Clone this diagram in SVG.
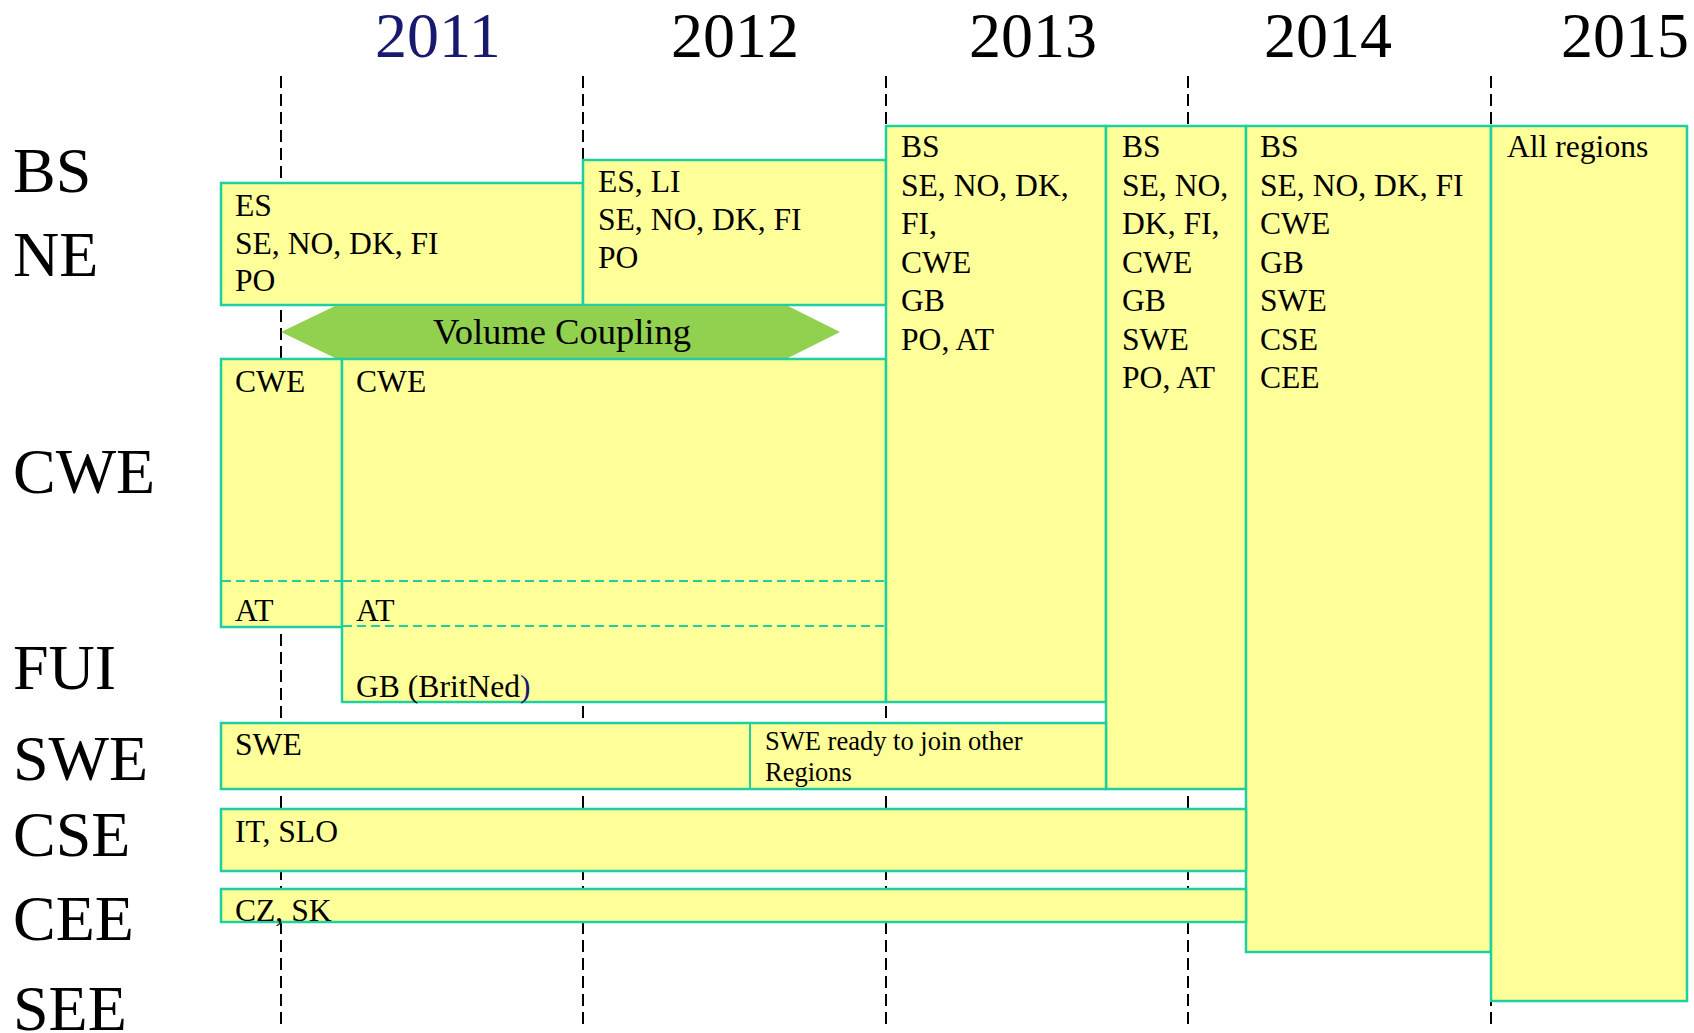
<svg xmlns="http://www.w3.org/2000/svg" width="1694" height="1033" viewBox="0 0 1694 1033">
  <style>
    text { font-family: "Liberation Serif", "Times New Roman", serif; fill: #000; }
    .year { font-size: 64px; }
    .row { font-size: 64px; }
    .t { font-size: 31.6px; }
    .small { font-size: 26.5px; }
    .vc { font-size: 36.5px; text-anchor: middle; }
    .box { fill: #ffff99; stroke: #1ecf9f; stroke-width: 2.5; }
    .sep { stroke: #1ecf9f; stroke-width: 2; stroke-dasharray: 9 5; fill: none; }
    .div { stroke: #1ecf9f; stroke-width: 2; fill: none; }
    .grid { stroke: #000; stroke-width: 2; stroke-dasharray: 12 6; fill: none; }
    .arrow { fill: #92d050; }
  </style>

  <rect width="1694" height="1033" fill="#ffffff"/>

  <!-- year headings -->
  <g id="years">
    <text class="year" x="375" y="57" style="fill:#191970">2011</text>
    <text class="year" x="671" y="57">2012</text>
    <text class="year" x="969" y="57">2013</text>
    <text class="year" x="1264" y="57">2014</text>
    <text class="year" x="1561" y="57">2015</text>
  </g>

  <!-- region labels -->
  <g id="regions">
    <text class="row" x="13" y="192">BS</text>
    <text class="row" x="13" y="276">NE</text>
    <text class="row" x="13" y="493">CWE</text>
    <text class="row" x="13" y="689">FUI</text>
    <text class="row" x="13" y="780">SWE</text>
    <text class="row" x="13" y="856">CSE</text>
    <text class="row" x="13" y="940">CEE</text>
    <text class="row" x="13" y="1030">SEE</text>
  </g>

  <!-- year boundaries -->
  <g id="gridlines">
    <line class="grid" x1="281" y1="76" x2="281" y2="1028"/>
    <line class="grid" x1="583" y1="76" x2="583" y2="1028"/>
    <line class="grid" x1="886" y1="76" x2="886" y2="1028"/>
    <line class="grid" x1="1188" y1="76" x2="1188" y2="1028"/>
    <line class="grid" x1="1491" y1="76" x2="1491" y2="1028"/>
  </g>

  <g id="connectors"></g>

  <g id="ne-2011">
    <rect class="box" x="221" y="183" width="362" height="122"/>
    <text class="t" x="235" y="216">ES</text>
    <text class="t" x="235" y="254">SE, NO, DK, FI</text>
    <text class="t" x="235" y="291">PO</text>
  </g>

  <g id="ne-2012">
    <rect class="box" x="583" y="160" width="303" height="145"/>
    <text class="t" x="598" y="192">ES, LI</text>
    <text class="t" x="598" y="230">SE, NO, DK, FI</text>
    <text class="t" x="598" y="268">PO</text>
  </g>

  <g id="volume-coupling">
    <polygon class="arrow" points="281,332 335,306 788,306 840,332 788,358 335,358"/>
    <text class="vc" x="562" y="344">Volume Coupling</text>
  </g>

  <g id="cwe-2011">
    <rect class="box" x="221" y="359" width="121" height="268"/>
    <line class="sep" x1="222" y1="581" x2="342" y2="581"/>
    <text class="t" x="235" y="392">CWE</text>
    <text class="t" x="235" y="621">AT</text>
  </g>

  <g id="cwe-2012">
    <rect class="box" x="342" y="359" width="544" height="343"/>
    <line class="sep" x1="343" y1="581" x2="885" y2="581"/>
    <line class="sep" x1="343" y1="626" x2="885" y2="626"/>
    <text class="t" x="356" y="392">CWE</text>
    <text class="t" x="356" y="621">AT</text>
    <text class="t" x="356" y="697">GB (BritNed<tspan style="fill:#191970">)</tspan></text>
  </g>

  <g id="coupled-2013">
    <rect class="box" x="886" y="126" width="220" height="576"/>
    <text class="t" x="901" y="157">BS</text>
    <text class="t" x="901" y="195.5">SE, NO, DK,</text>
    <text class="t" x="901" y="234">FI,</text>
    <text class="t" x="901" y="272.5">CWE</text>
    <text class="t" x="901" y="311">GB</text>
    <text class="t" x="901" y="349.5">PO, AT</text>
  </g>

  <g id="coupled-2013b">
    <rect class="box" x="1106" y="126" width="140" height="663"/>
    <text class="t" x="1122" y="157">BS</text>
    <text class="t" x="1122" y="195.5">SE, NO,</text>
    <text class="t" x="1122" y="234">DK, FI,</text>
    <text class="t" x="1122" y="272.5">CWE</text>
    <text class="t" x="1122" y="311">GB</text>
    <text class="t" x="1122" y="349.5">SWE</text>
    <text class="t" x="1122" y="388">PO, AT</text>
  </g>

  <g id="coupled-2014">
    <rect class="box" x="1246" y="126" width="245" height="826"/>
    <text class="t" x="1260" y="157">BS</text>
    <text class="t" x="1260" y="195.5">SE, NO, DK, FI</text>
    <text class="t" x="1260" y="234">CWE</text>
    <text class="t" x="1260" y="272.5">GB</text>
    <text class="t" x="1260" y="311">SWE</text>
    <text class="t" x="1260" y="349.5">CSE</text>
    <text class="t" x="1260" y="388">CEE</text>
  </g>

  <g id="coupled-2015">
    <rect class="box" x="1491" y="126" width="196" height="875"/>
    <text class="t" x="1507" y="157">All regions</text>
  </g>

  <g id="swe">
    <rect class="box" x="221" y="723" width="885" height="66"/>
    <line class="div" x1="750" y1="723" x2="750" y2="789"/>
    <text class="t" x="235" y="755">SWE</text>
    <text class="small" x="765" y="750">SWE ready to join other</text>
    <text class="small" x="765" y="781">Regions</text>
  </g>

  <g id="cse">
    <rect class="box" x="221" y="809" width="1025" height="62"/>
    <text class="t" x="235" y="842">IT, SLO</text>
  </g>

  <g id="cee">
    <rect class="box" x="221" y="889" width="1025" height="33"/>
    <text class="t" x="235" y="921">CZ, SK</text>
  </g>
</svg>
